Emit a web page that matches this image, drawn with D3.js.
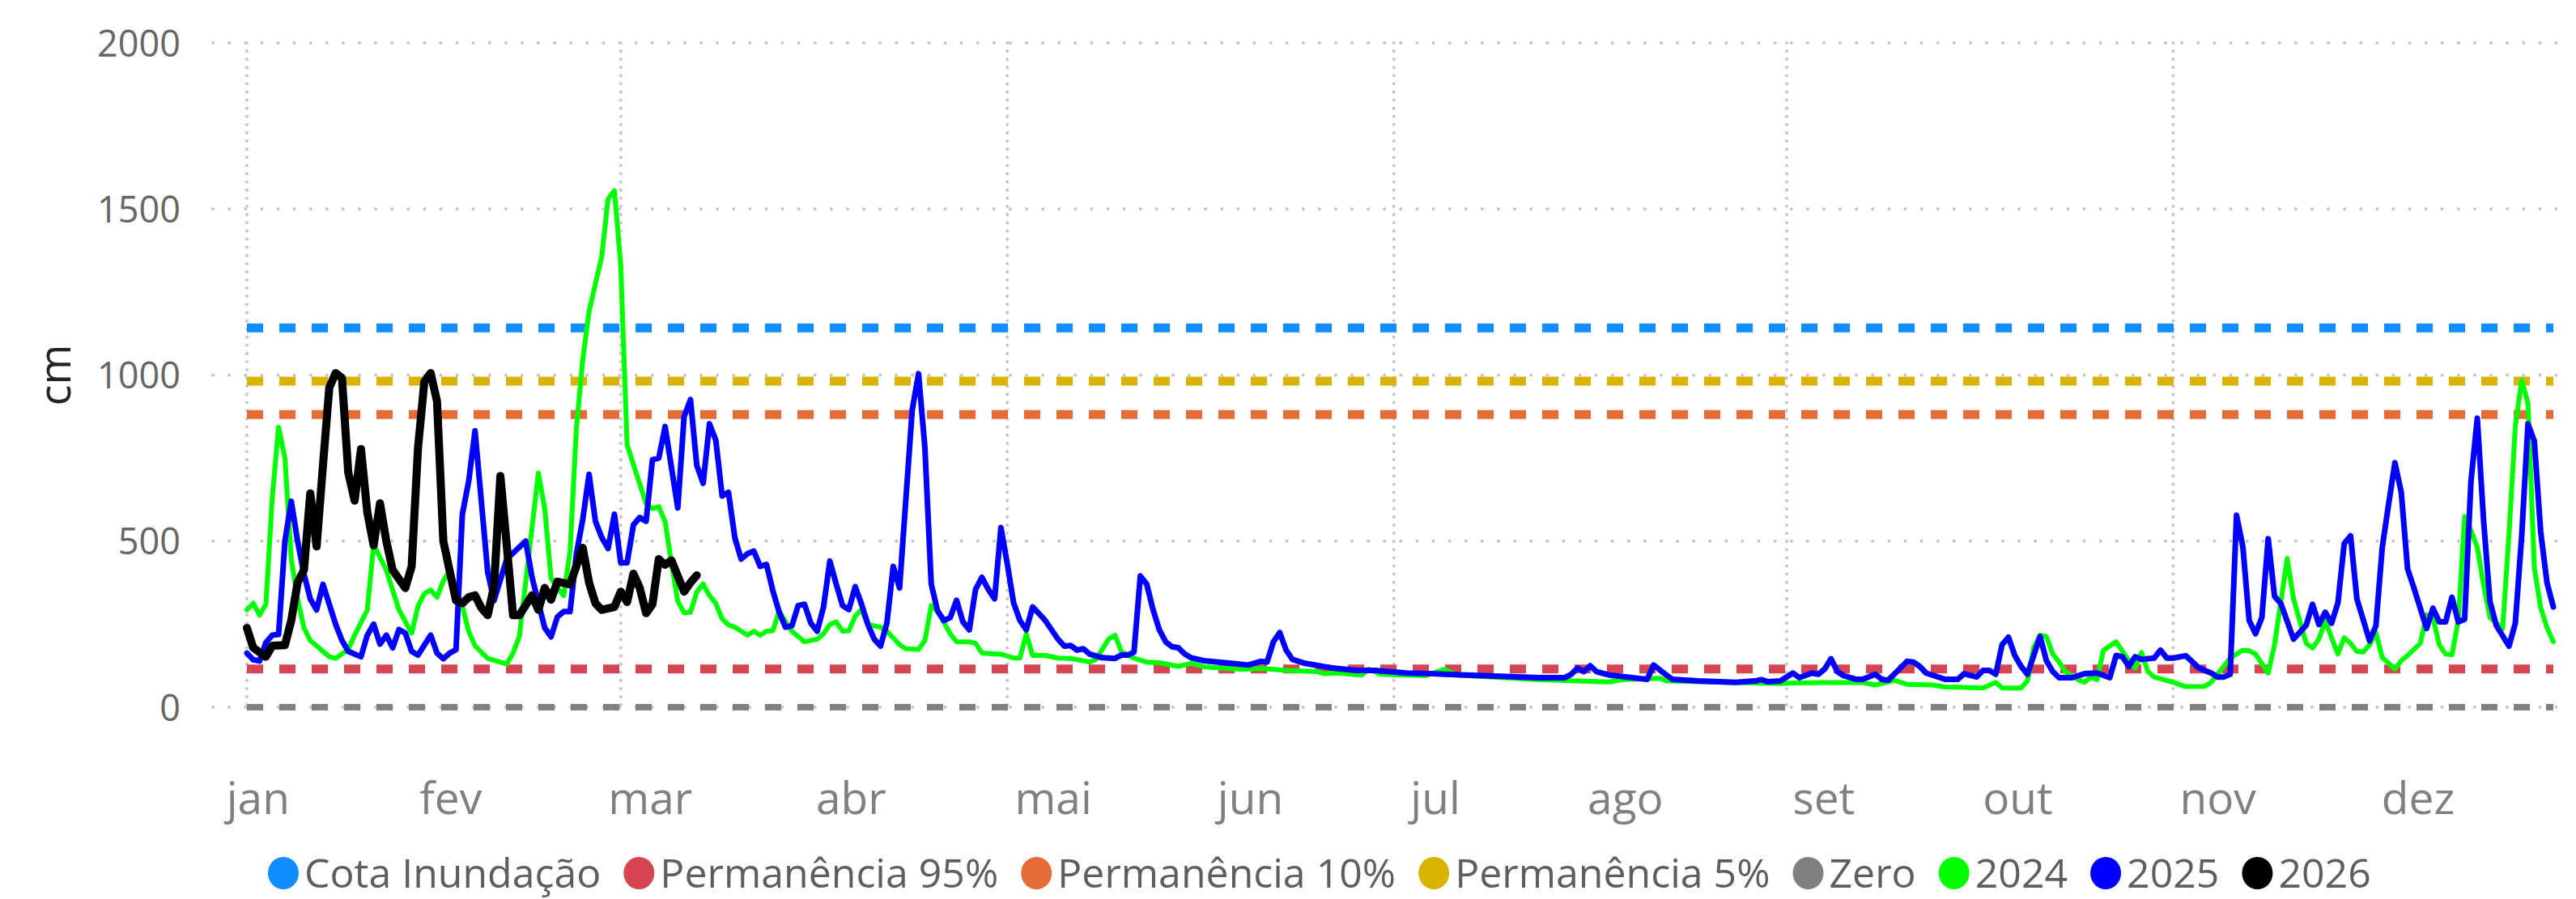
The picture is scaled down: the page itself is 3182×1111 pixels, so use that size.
<!DOCTYPE html>
<html>
<head>
<meta charset="utf-8">
<script src="https://cdn.jsdelivr.net/npm/d3@7"></script>
<style>
  body { margin: 0; background: #fff; }
  text { font-family: "Segoe UI", "Open Sans", sans-serif; }
</style>
</head>
<body>
<div id="chart"></div>
<script>
// cota (cm) por dia do ano (0 = 1 de janeiro)
const serie2024 = [
  [0,293],[1,313],[2,277],[3,310],[4,631],[5,843],[6,750],[7,445],[8,326],[9,239],[10,201],[13,152],[14,147],
  [16,174],[17,217],[19,293],[20,489],[22,413],[24,293],[26,223],[27,304],[28,342],[29,353],[30,331],[31,380],
  [32,413],[34,304],[35,228],[36,185],[38,147],[41,130],[42,163],[43,214],[46,705],[47,598],[48,388],[49,359],
  [50,336],[51,470],[52,840],[53,1046],[54,1192],[56,1357],[57,1530],[58,1555],[59,1330],[60,790],[63,613],
  [64,598],[65,604],[66,558],[67,435],[68,319],[69,284],[70,286],[71,347],[72,371],[73,336],[74,313],[75,266],
  [76,248],[77,241],[79,217],[80,229],[81,217],[82,229],[83,230],[84,290],[85,257],[86,229],[88,197],[90,205],
  [91,221],[92,249],[93,257],[94,229],[95,230],[96,274],[97,294],[98,249],[100,241],[101,229],[102,209],[103,188],
  [104,176],[106,174],[107,201],[108,306],[109,290],[111,221],[112,197],[114,197],[115,192],[116,164],[118,160],
  [119,160],[121,148],[122,148],[123,221],[124,156],[126,156],[128,148],[130,147],[133,136],[134,144],[136,205],
  [137,217],[138,168],[140,148],[142,136],[144,134],[147,123],[149,132],[151,122],[157,114],[160,117],[164,111],
  [169,107],[170,101],[172,103],[176,97],[177,115],[179,99],[186,95],[189,114],[191,97],[204,83],[215,76],
  [217,83],[223,87],[224,79],[242,71],[244,73],[249,74],[255,74],[257,67],[260,81],[262,69],[266,67],[268,61],
  [270,60],[274,58],[276,75],[277,58],[280,58],[281,79],[282,180],[283,217],[284,213],[285,160],[286,136],
  [287,107],[289,83],[290,75],[291,91],[292,83],[293,172],[295,197],[297,140],[298,118],[299,165],[300,108],
  [301,91],[304,75],[306,62],[309,63],[310,75],[313,148],[315,172],[316,170],[317,160],[319,103],[320,188],
  [322,448],[323,326],[325,192],[326,178],[327,205],[328,259],[330,160],[331,209],[332,192],[333,168],[334,166],
  [335,188],[336,225],[337,150],[339,115],[340,140],[341,156],[343,192],[344,278],[345,270],[346,188],[347,160],
  [348,158],[349,261],[350,574],[351,533],[352,481],[353,367],[354,270],[356,237],[357,520],[358,846],[359,984],
  [360,915],[361,420],[362,300],[363,240],[364,197]
];

const serie2025 = [
  [0,163],[1,143],[2,139],[3,195],[4,217],[5,219],[6,500],[7,620],[8,500],[9,402],[10,326],[11,293],[12,370],
  [14,250],[15,201],[16,168],[18,152],[19,217],[20,250],[21,190],[22,217],[23,179],[24,234],[25,223],[26,168],
  [27,157],[29,217],[30,163],[31,146],[32,163],[33,173],[34,581],[35,680],[36,832],[38,407],[39,321],[41,446],
  [44,500],[45,391],[47,239],[48,212],[49,272],[50,288],[51,288],[52,462],[53,565],[54,701],[55,560],[56,511],
  [57,478],[58,581],[59,435],[60,435],[61,549],[62,571],[63,560],[64,745],[65,750],[66,845],[68,600],[69,875],
  [70,926],[71,728],[72,674],[73,853],[74,804],[75,636],[76,647],[77,511],[78,446],[79,462],[80,470],[81,424],
  [82,430],[83,351],[84,286],[85,241],[86,245],[87,306],[88,310],[89,253],[90,229],[91,302],[92,440],[93,371],
  [94,306],[95,294],[96,363],[97,310],[98,249],[99,205],[100,184],[101,253],[102,424],[103,359],[105,895],
  [106,1004],[107,781],[108,371],[109,290],[110,261],[111,270],[112,322],[113,257],[114,233],[115,355],[116,391],
  [117,355],[118,326],[119,541],[120,432],[121,314],[122,261],[123,233],[124,302],[125,282],[126,261],[128,205],
  [129,184],[130,186],[131,172],[132,176],[133,160],[135,149],[137,147],[138,157],[139,157],[140,166],[141,395],
  [142,371],[143,294],[144,233],[145,197],[146,182],[147,179],[148,160],[149,149],[151,140],[155,133],[158,127],
  [160,138],[161,136],[162,197],[163,225],[164,172],[165,144],[167,132],[171,119],[175,111],[178,111],[183,103],
  [187,101],[195,95],[204,89],[208,89],[209,99],[210,118],[211,107],[212,125],[213,107],[215,97],[221,84],
  [222,127],[224,97],[225,84],[229,79],[235,75],[238,79],[239,83],[240,77],[242,79],[244,103],[245,89],[247,103],
  [248,99],[249,115],[250,146],[251,107],[252,95],[254,84],[255,84],[257,99],[258,84],[259,81],[261,119],[262,138],
  [263,136],[264,123],[265,103],[268,84],[270,84],[271,101],[273,91],[274,111],[275,111],[276,99],[277,188],
  [278,211],[279,156],[280,123],[281,99],[282,156],[283,213],[284,140],[285,107],[286,89],[288,89],[290,101],
  [292,103],[294,89],[295,156],[296,152],[297,123],[298,152],[299,144],[301,148],[302,172],[303,148],[304,148],
  [306,155],[308,119],[310,103],[311,91],[312,91],[313,99],[314,578],[315,483],[316,261],[317,221],[318,270],
  [319,507],[320,334],[321,312],[323,205],[325,247],[326,310],[327,249],[328,286],[329,253],[330,314],[331,493],
  [332,516],[333,326],[335,200],[336,245],[337,481],[338,611],[339,736],[340,647],[341,416],[342,359],[344,237],
  [345,298],[346,257],[347,257],[348,331],[349,257],[350,265],[351,680],[352,870],[353,560],[354,318],[355,246],
  [357,184],[358,253],[359,513],[360,853],[361,801],[362,529],[363,375],[364,302]
];

const serie2026 = [
  [0,239],[1,179],[3,152],[4,185],[6,187],[7,261],[8,375],[9,413],[10,644],[11,484],[12,728],[13,962],[14,1006],
  [15,991],[16,706],[17,622],[18,777],[19,587],[20,487],[21,614],[22,500],[23,413],[25,359],[26,424],[27,780],
  [28,980],[29,1006],[30,921],[31,500],[33,321],[34,313],[35,331],[36,337],[37,299],[38,277],[39,364],[40,696],
  [41,489],[42,277],[43,277],[45,337],[46,293],[47,359],[48,324],[49,378],[51,370],[53,480],[54,375],[55,313],
  [56,293],[58,302],[59,348],[60,317],[61,402],[62,359],[63,283],[64,310],[65,446],[66,429],[67,442],[69,348],
  [70,375],[71,397]
];

// linhas de referência
const referencias = ["Cota Inundação", "Permanência 95%", "Permanência 10%", "Permanência 5%", "Zero"];
const valoresReferencia = [1142, 115, 881, 982, 0];

const anos = ["2024", "2025", "2026"];
const mesesRotulo = ["jan", "fev", "mar", "abr", "mai", "jun", "jul", "ago", "set", "out", "nov", "dez"];
const diaRotulo = [1.7, 32.1, 63.6, 95.3, 127.2, 158.3, 187.5, 217.5, 248.8, 279.4, 311, 342.6];
const yTicks = [0, 500, 1000, 1500, 2000];

const coresRef = ["#118DFF", "#D64550", "#E66C37", "#D9B300", "#808080"];
const coresAno = ["#00FF00", "#0000FF", "#000000"];

const width = 3182, height = 1111;
const inicio = new Date(2025, 0, 1);
const toDate = d => new Date(inicio.getTime() + d * 864e5);

const x = d3.scaleTime()
  .domain([inicio, new Date(2025, 11, 31)])
  .range([305, 3154]);

const y = d3.scaleLinear()
  .domain([0, 2000])
  .range([874, 53]);

const svg = d3.select("#chart").append("svg")
  .attr("width", width)
  .attr("height", height);

// grade horizontal pontilhada
svg.append("g").selectAll("line")
  .data(yTicks)
  .enter().append("line")
  .attr("x1", 263).attr("x2", 3162)
  .attr("y1", d => y(d)).attr("y2", d => y(d))
  .attr("stroke", "#C6C6C6")
  .attr("stroke-width", 4)
  .attr("stroke-linecap", "round")
  .attr("stroke-dasharray", "0.1,20");

// grade vertical (bimestral)
const mesesGrade = d3.range(0, 12, 2).map(m => new Date(2025, m, 1));
svg.append("g").selectAll("line")
  .data(mesesGrade)
  .enter().append("line")
  .attr("x1", d => x(d)).attr("x2", d => x(d))
  .attr("y1", y(2000)).attr("y2", y(0))
  .attr("stroke", "#C6C6C6")
  .attr("stroke-width", 4)
  .attr("stroke-linecap", "round")
  .attr("stroke-dasharray", "0.1,10");

// eixo y
const yAxis = svg.append("g")
  .attr("transform", "translate(223,0)")
  .call(d3.axisLeft(y).tickValues(yTicks).tickFormat(d3.format("d")).tickSize(0).tickPadding(0));
yAxis.select(".domain").remove();
yAxis.selectAll("text")
  .attr("font-family", "'Segoe UI', 'Open Sans', sans-serif")
  .attr("font-size", 45)
  .attr("fill", "#666666")
  .attr("dy", "0.36em");

svg.append("text")
  .attr("transform", `translate(87,${y(1000)}) rotate(-90)`)
  .attr("text-anchor", "middle")
  .attr("font-size", 54)
  .attr("fill", "#252423")
  .text("cm");

// eixo x
const xAxis = svg.append("g")
  .attr("transform", "translate(0,1006)")
  .call(d3.axisBottom(x)
    .tickValues(diaRotulo.map(toDate))
    .tickFormat((d, i) => mesesRotulo[i])
    .tickSize(0).tickPadding(0));
xAxis.select(".domain").remove();
xAxis.selectAll("text")
  .attr("font-family", "Roboto, sans-serif")
  .attr("font-size", 55)
  .attr("fill", "#808080")
  .attr("dy", 0);

// linhas de referência tracejadas
svg.append("g").selectAll("line")
  .data(valoresReferencia)
  .enter().append("line")
  .attr("x1", x.range()[0]).attr("x2", x.range()[1])
  .attr("y1", d => y(d)).attr("y2", d => y(d))
  .attr("stroke", (d, i) => coresRef[i])
  .attr("stroke-width", (d, i) => i === 4 ? 8 : 11)
  .attr("stroke-dasharray", "20,20");

// séries anuais
const line = d3.line()
  .x(d => x(toDate(d[0])))
  .y(d => y(d[1]));

const series = [serie2024, serie2025, serie2026];
const espessura = [6, 7, 10];
svg.append("g").selectAll("path")
  .data(series)
  .enter().append("path")
  .attr("d", line)
  .attr("fill", "none")
  .attr("stroke", (d, i) => coresAno[i])
  .attr("stroke-width", (d, i) => espessura[i])
  .attr("stroke-linejoin", "round")
  .attr("stroke-linecap", "round");

// legenda
const itensLegenda = referencias.map((n, i) => ({ nome: n, cor: coresRef[i] }))
  .concat(anos.map((n, i) => ({ nome: n, cor: coresAno[i] })));

const legenda = svg.append("g");
let cx = 350;
itensLegenda.forEach(item => {
  legenda.append("ellipse")
    .attr("cx", cx).attr("cy", 1079)
    .attr("rx", 19).attr("ry", 20)
    .attr("fill", item.cor);
  const t = legenda.append("text")
    .attr("x", cx + 26).attr("y", 1097)
    .attr("font-size", 50)
    .attr("fill", "#605E5C")
    .text(item.nome);
  cx += 26 + t.node().getComputedTextLength() + 47;
});
</script>
</body>
</html>
